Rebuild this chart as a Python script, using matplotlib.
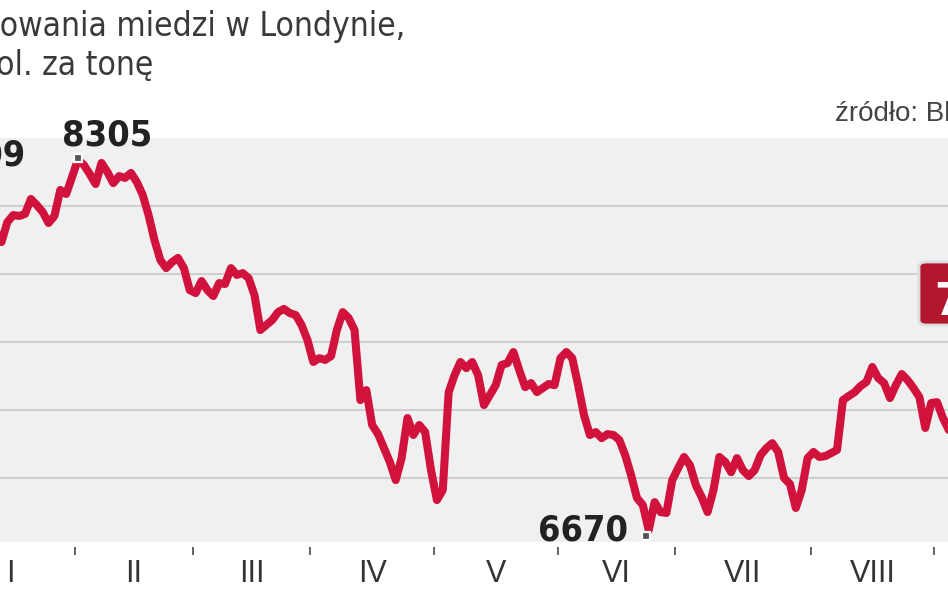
import matplotlib
matplotlib.use('Agg')
import matplotlib.pyplot as plt
from matplotlib import font_manager as fm
from matplotlib.transforms import offset_copy
from matplotlib.patches import FancyBboxPatch

# ---- data (LME copper, USD per tonne, trading-day index) ----
first_day = 8
prices = [
    8016, 7941, 8029, 8060, 8056, 8065, 8131, 8104, 8074, 8025,
    8056, 8171, 8153, 8228, 8305, 8281, 8241, 8197, 8290, 8250,
    8201, 8232, 8224, 8246, 8206, 8149, 8060, 7950, 7862, 7826,
    7853, 7871, 7826, 7729, 7716, 7769, 7729, 7703, 7760, 7756,
    7826, 7796, 7804, 7782, 7707, 7553, 7575, 7597, 7632, 7646,
    7628, 7619, 7575, 7509, 7412, 7429, 7421, 7438, 7553, 7632,
    7606, 7553, 7244, 7288, 7134, 7094, 7032, 6971, 6891, 6988,
    7165, 7090, 7134, 7103, 6935, 6803, 6847, 7279, 7354, 7412,
    7385, 7412, 7354, 7222, 7266, 7310, 7399, 7407, 7456, 7376,
    7301, 7319, 7279, 7297, 7315, 7310, 7429, 7456, 7429, 7310,
    7178, 7090, 7103, 7076, 7094, 7090, 7068, 7001, 6913, 6812,
    6781, 6670, 6794, 6750, 6746, 6891, 6944, 6993, 6957, 6869,
    6816, 6750, 6847, 6993, 6971, 6926, 6988, 6935, 6909, 6935,
    7001, 7032, 7054, 7015, 6900, 6874, 6768, 6847, 6988, 7015,
    6993, 6997, 7010, 7024, 7244, 7262, 7279, 7306, 7324, 7390,
    7341, 7319, 7253, 7310, 7359, 7332, 7297, 7257, 7121, 7231,
    7235, 7165, 7112,
]
days = list(range(first_day, first_day + len(prices)))

month_ends = [22, 42, 62, 83, 104, 124, 147, 168]   # cumulative trading days
month_labels = ['I', 'II', 'III', 'IV', 'V', 'VI', 'VII', 'VIII']
grid_levels = [6900, 7200, 7500, 7800, 8100]

title_lines = ["Notowania miedzi w Londynie,", "w dol. za tonę"]
source_text = "źródło: Bloomberg"
start_label = "8209"
max_label = "8305"
min_label = "6670"
last_label = "7112"


# ---- font selection: prefer a narrow / condensed sans ----
def _is_bold(w):
    if isinstance(w, str):
        return w.lower() in ('bold', 'heavy', 'black', 'demibold', 'semibold',
                             'extra bold', 'ultrabold')
    return w >= 600


def pick_narrow(bold):
    best = None
    for f in fm.fontManager.ttflist:
        name = (f.name + ' ' + f.fname).lower()
        narrow = ('narrow' in name or 'condensed' in name or
                  (isinstance(f.stretch, str) and 'condensed' in f.stretch))
        if not narrow or f.style != 'normal':
            continue
        if _is_bold(f.weight) != bold:
            continue
        if 'light' in name or 'thin' in name or 'oblique' in name or 'italic' in name:
            continue
        score = 0 if 'liberation' in name else (1 if 'dejavu' in name else 2)
        if best is None or score < best[0]:
            best = (score, f.fname)
    if best:
        return fm.FontProperties(fname=best[1])
    return fm.FontProperties(family='Liberation Sans',
                             weight='bold' if bold else 'normal')


fp_reg = pick_narrow(False)
fp_bold = pick_narrow(True)

W, H = 948, 593
fig = plt.figure(figsize=(W / 100, H / 100), dpi=100)
fig.patch.set_facecolor('white')
renderer = fig.canvas.get_renderer()


def fitted(fp, text, target_px, base=30):
    p = fp.copy()
    p.set_size(base)
    t = fig.text(0, 0, text, fontproperties=p)
    w = t.get_window_extent(renderer).width
    t.remove()
    p.set_size(base * target_px / w)
    return p


def fx(px):
    return px / W


def fy(py):
    return 1 - py / H


ax = fig.add_axes([0, fy(542), 1, (542 - 138) / H])
ax.set_facecolor('#f0f0f0')
ax.set_xlim(8.75, 169.86)
ax.set_ylim(6618, 8400)

for g in grid_levels:
    ax.axhline(g, color='#cbcbcb', lw=1.3, zorder=1)

ax.plot(days, prices, color='#d0123d', lw=5.8, solid_joinstyle='round',
        solid_capstyle='round', zorder=3)

for s in ax.spines.values():
    s.set_visible(False)
ax.spines['bottom'].set_position(('outward', 3.6))
ax.set_yticks([])

bounds = [m - 0.5 for m in month_ends]
starts = [0] + month_ends[:-1]
centers = [(a + b) / 2 - 0.5 for a, b in zip(starts, month_ends)]
ax.set_xticks(bounds)
ax.set_xticklabels([])
ax.set_xticks(centers, minor=True)
ax.set_xticklabels(month_labels, minor=True)
ax.tick_params(axis='x', which='major', length=5.8, width=1.3, color='#555555',
               direction='out')
ax.tick_params(axis='x', which='minor', length=0, pad=8.5, labelsize=22,
               labelcolor='#333333')
for t in ax.get_xticklabels(minor=True):
    t.set_family('Liberation Sans')

# extremes markers and labels
imax = prices.index(max(prices))
imin = prices.index(min(prices))
for i, dy, dx in [(imax, 2, 0), (imin, -6, -2.7)]:
    tr = offset_copy(ax.transData, fig=fig, x=dx, y=dy, units='dots')
    ax.plot([days[i]], [prices[i]], marker='s', ms=6, mfc='#555555', mec='white',
            mew=1.6, transform=tr, zorder=6, clip_on=False)

fp_num = fitted(fp_bold, max_label, 90)
ax.annotate(max_label, (days[imax], prices[imax]), xytext=(21, 10),
            textcoords='offset points', ha='center', va='baseline',
            fontproperties=fp_num, color='#222222')
ax.annotate(min_label, (days[imin], prices[imin]), xytext=(-15, -7.5),
            textcoords='offset points', ha='right', va='baseline',
            fontproperties=fp_num, color='#222222')
fig.text(fx(25), fy(165), start_label, ha='right', va='baseline',
         fontproperties=fp_num, color='#222222')

# last value box (cropped at right edge)
box = FancyBboxPatch((fx(919), fy(325)), fx(60), (325 - 262) / H,
                     boxstyle='round,pad=0,rounding_size=0.008',
                     transform=fig.transFigure, fc='#b3172e', ec='#dcdcdc',
                     lw=2, zorder=10)
fig.patches.append(box)
fp_last = fp_num.copy()
fp_last.set_size(fp_num.get_size() * 1.25)
fig.text(fx(934), fy(315), last_label, ha='left', va='baseline', color='white',
         fontproperties=fp_last, zorder=11)

# titles
fp_title = fitted(fp_reg, "owania miedzi w Londynie,", 405)
fig.text(fx(405), fy(36), title_lines[0], ha='right', va='baseline',
         fontproperties=fp_title, color='#3a3a3a')
fig.text(fx(153), fy(75), title_lines[1], ha='right', va='baseline',
         fontproperties=fp_title, color='#3a3a3a')
fig.text(fx(835), fy(121), source_text, ha='left', va='baseline',
         family='Liberation Sans', color='#444444', fontsize=20)

fig.savefig('out.png', dpi=100)
